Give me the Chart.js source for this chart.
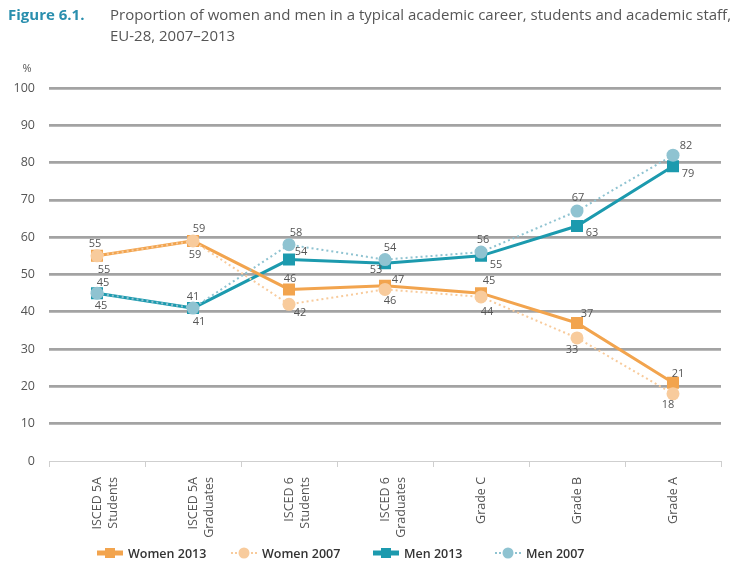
<!DOCTYPE html>
<html>
<head>
<meta charset="utf-8">
<script src="https://cdn.jsdelivr.net/npm/chart.js@4.4.1/dist/chart.umd.min.js"></script>
<style>
body { margin: 0; background: #fff; }
#wrap { position: relative; width: 737px; height: 572px; overflow: hidden; }
#fig { position: absolute; left: 8px; top: 4px; font: bold 15px "Open Sans"; color: #2a8fae; }
#ttl { position: absolute; left: 110px; top: 4px; width: 627px; font: 15px "Open Sans"; color: #555; line-height: 21px; }
#chart { position: absolute; left: 0; top: 0; }
#legend { position: absolute; top: 545px; left: 0; width: 737px; height: 16px; font: 600 12.5px "Open Sans"; color: #333; }
.item { position: absolute; top: 0; display: flex; align-items: center; height: 16px; }
.item canvas { margin-right: 5px; }
</style>
</head>
<body>
<div id="wrap">
  <canvas id="chart" width="737" height="572"></canvas>
  <div id="fig">Figure 6.1.</div>
  <div id="ttl">Proportion of women and men in a typical academic career, students and academic staff,<br>EU-28, 2007–2013</div>
  <div id="legend"></div>
</div>
<script>
// categories along the career
var categories = [["ISCED 5A", "Students"], ["ISCED 5A", "Graduates"], ["ISCED 6", "Students"], ["ISCED 6", "Graduates"], "Grade C", "Grade B", "Grade A"];

// values (%)
var women2013 = [55, 59, 46, 47, 45, 37, 21];
var women2007 = [55, 59, 42, 46, 44, 33, 18];
var men2013 = [45, 41, 54, 53, 55, 63, 79];
var men2007 = [45, 41, 58, 54, 56, 67, 82];

var seriesNames = ["Women 2013", "Women 2007", "Men 2013", "Men 2007"];

// where each value label sits relative to its point
var labelOffsets = [
    [[7, 14], [6, -12], [1, -11], [13, -6], [8, -12], [10, -9], [5, -9]],
    [[-2, -12], [2, 14], [11, 9], [5, 11], [6, 15], [-5, 12], [-5, 11]],
    [[4, 13], [6, 14], [12, -8], [-9, 7], [15, 9], [15, 7], [15, 8]],
    [[6, -10], [0, -11], [7, -12], [5, -12], [2, -12], [1, -13], [13, -9]]
];

var colors = ["#f2a44e", "#f8cb9c", "#1c9aae", "#8fc3d1"];
var dotted = [false, true, false, true];
var shapes = ["rect", "circle", "rect", "circle"];

const valueLabels = {
    id: "valueLabels",
    afterDatasetsDraw(chart) {
        const ctx = chart.ctx;
        ctx.save();
        ctx.font = '11px "Open Sans"';
        ctx.fillStyle = "#555";
        ctx.textAlign = "center";
        ctx.textBaseline = "middle";
        chart.data.datasets.forEach(function (ds, i) {
            const meta = chart.getDatasetMeta(i);
            meta.data.forEach(function (pt, j) {
                const off = labelOffsets[i][j];
                ctx.fillText(ds.data[j], pt.x + off[0], pt.y + off[1]);
            });
        });
        // unit above the y axis
        ctx.fillText("%", 27, chart.chartArea.top - 19);
        ctx.restore();
    }
};

function makeDataset(i, data) {
    return {
        label: seriesNames[i],
        data: data,
        borderColor: colors[i],
        backgroundColor: colors[i],
        pointBackgroundColor: colors[i],
        pointBorderColor: colors[i],
        borderWidth: dotted[i] ? 2 : 3,
        borderDash: dotted[i] ? [2, 3] : [],
        pointStyle: shapes[i],
        pointRadius: shapes[i] === "rect" ? 8.5 : 6.5,
        pointBorderWidth: 0,
        tension: 0,
        order: dotted[i] ? 1 : 2
    };
}

const ctx = document.getElementById("chart").getContext("2d");
const chart = new Chart(ctx, {
    type: "line",
    data: {
        labels: categories,
        datasets: [
            makeDataset(0, women2013),
            makeDataset(1, women2007),
            makeDataset(2, men2013),
            makeDataset(3, men2007)
        ]
    },
    options: {
        responsive: false,
        animation: false,
        layout: { padding: { top: 88, right: 16, left: 0, bottom: 0 } },
        plugins: {
            legend: { display: false },
            tooltip: { enabled: false }
        },
        scales: {
            x: {
                offset: true,
                grid: { offset: true, drawOnChartArea: false, drawTicks: true, tickLength: 6, color: "#cfcfcf" },
                border: { display: true, color: "#cfcfcf" },
                ticks: {
                    autoSkip: false, maxRotation: 90, minRotation: 90, padding: 10,
                    color: "#555", font: { family: "Open Sans", size: 12.5, lineHeight: 1.35 }
                },
                afterFit: function (scale) { scale.height = 111; }
            },
            y: {
                min: 0, max: 100,
                ticks: { stepSize: 10, padding: 14, color: "#555", font: { family: "Open Sans", size: 12.5 } },
                border: { display: false },
                grid: {
                    drawTicks: false,
                    color: function (c) { return c.tick && c.tick.value === 0 ? "#cfcfcf" : "#a3a3a3"; },
                    lineWidth: function (c) { return c.tick && c.tick.value === 0 ? 1 : 2.8; }
                },
                afterFit: function (scale) { scale.width = 49; }
            }
        }
    },
    plugins: [valueLabels]
});

// legend drawn under the chart, one small icon per series
var legendX = [97, 231, 373, 495];
var legend = document.getElementById("legend");
seriesNames.forEach(function (name, i) {
    var item = document.createElement("div");
    item.className = "item";
    item.style.left = legendX[i] + "px";
    var c = document.createElement("canvas");
    c.width = 26; c.height = 14;
    var g = c.getContext("2d");
    g.strokeStyle = colors[i];
    g.fillStyle = colors[i];
    g.lineWidth = dotted[i] ? 2 : 5;
    if (dotted[i]) g.setLineDash([2, 2]);
    g.beginPath(); g.moveTo(0, 7); g.lineTo(26, 7); g.stroke();
    if (shapes[i] === "rect") g.fillRect(8, 2, 10, 10);
    else { g.beginPath(); g.arc(13, 7, 5.5, 0, Math.PI * 2); g.fill(); }
    item.appendChild(c);
    var t = document.createElement("span");
    t.textContent = name;
    item.appendChild(t);
    legend.appendChild(item);
});
</script>
</body>
</html>
